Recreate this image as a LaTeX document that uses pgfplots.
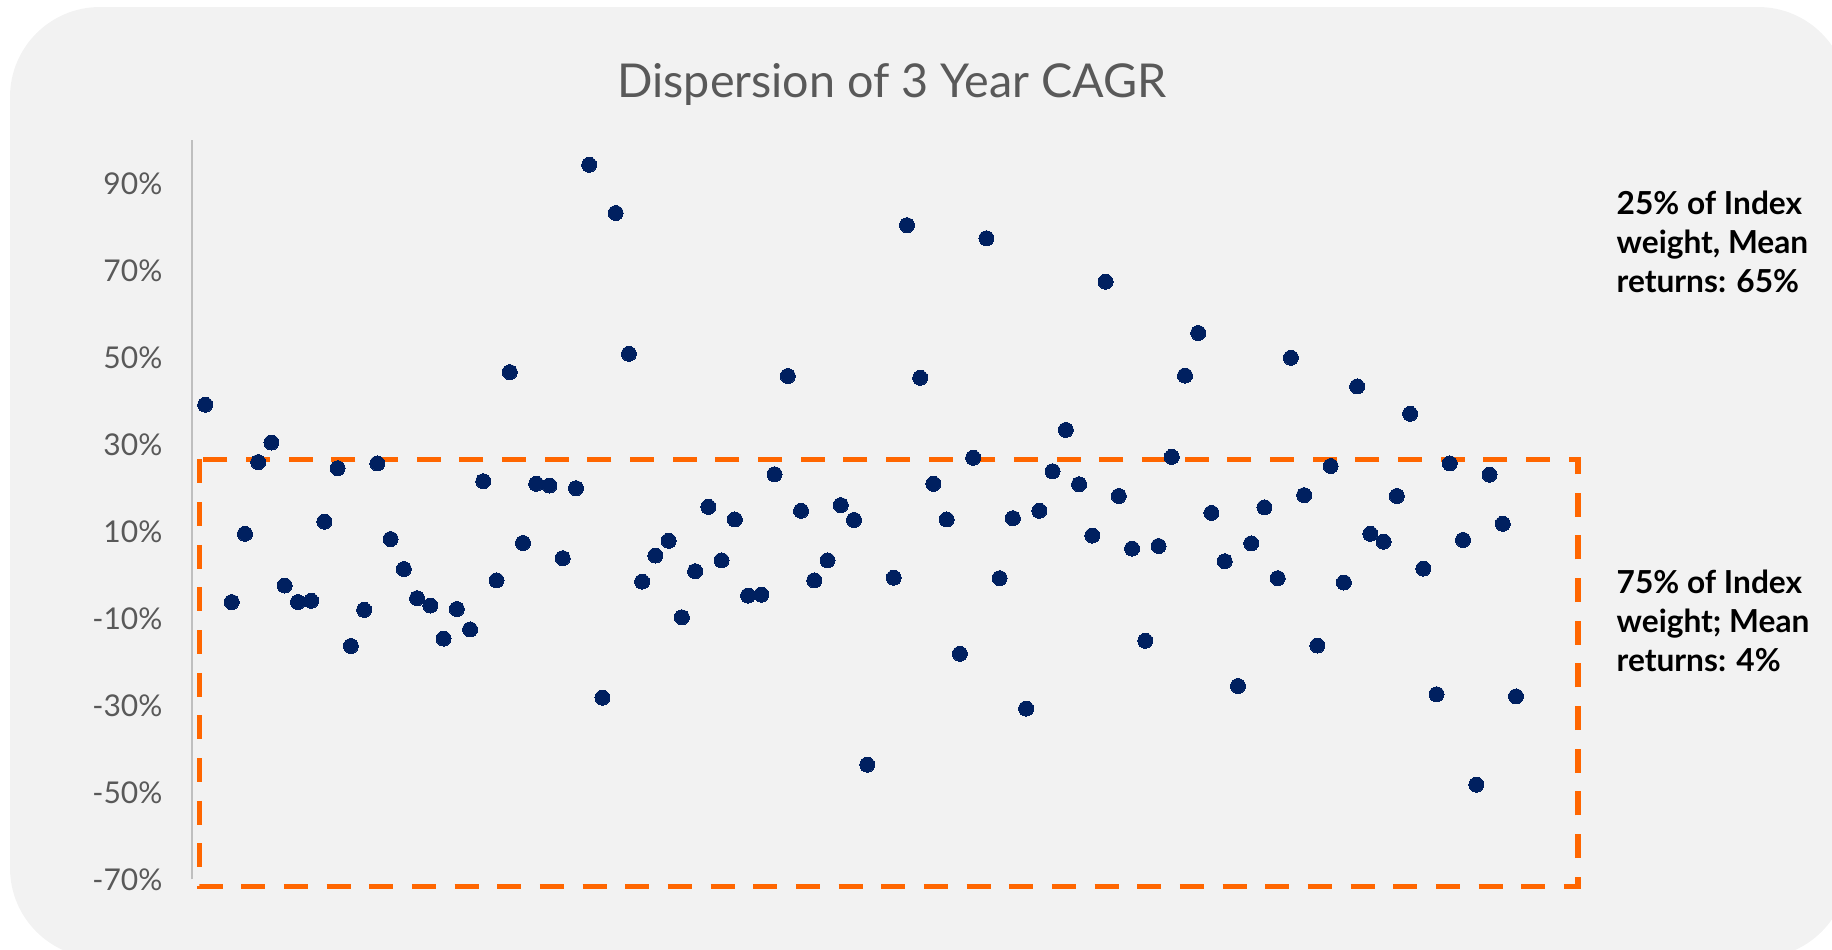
\documentclass[border=0pt]{standalone}
\usepackage{pgfplots}
\pgfplotsset{compat=1.18}
\usepackage{pgfplotstable}
\usepackage{fontspec}
\setmainfont{Lato}
\definecolor{bg}{HTML}{F2F2F2}
\definecolor{navy}{HTML}{002060}
\definecolor{orng}{HTML}{FF6600}
\definecolor{txtgrey}{HTML}{595959}
\definecolor{axgrey}{HTML}{BFBFBF}

\pgfplotstableread{
idx val
1 39.2
3 -6.2
4 9.5
5 26.0
6 30.5
7 -2.4
8 -6.2
9 -5.9
10 12.3
11 24.6
12 -16.3
13 -8.0
14 25.7
15 8.3
16 1.4
17 -5.3
18 -7.0
19 -14.6
20 -7.8
21 -12.5
22 21.6
23 -1.2
24 46.7
25 7.4
26 21.0
27 20.6
28 3.9
29 20.0
30 94.4
31 -28.2
32 83.3
33 50.9
34 -1.5
35 4.5
36 7.9
37 -9.7
38 0.9
39 15.7
40 3.4
41 12.8
42 -4.7
43 -4.5
44 23.2
45 45.8
46 14.8
47 -1.2
48 3.4
49 16.1
50 12.7
51 -43.6
53 -0.6
54 80.5
55 45.4
56 21.0
57 12.8
58 -18.1
59 27.0
60 77.5
61 -0.7
62 13.1
63 -30.7
64 14.8
65 23.9
66 33.4
67 20.9
68 9.1
69 67.5
70 18.2
71 6.1
72 -15.1
73 6.7
74 27.2
75 45.9
76 55.7
77 14.3
78 3.2
79 -25.5
80 7.3
81 15.6
82 -0.7
83 50.0
84 18.4
85 -16.2
86 25.1
87 -1.7
88 43.4
89 9.5
90 7.7
91 18.2
92 37.1
93 1.5
94 -27.4
95 25.7
96 8.1
97 -48.2
98 23.1
99 11.8
100 -27.9
}\cagr

\begin{document}
\begin{tikzpicture}
\path[use as bounding box] (0pt,0pt) rectangle (549.6pt,-284.7pt);
\begin{scope}
\clip (0pt,0pt) rectangle (549.6pt,-284.7pt);
\fill[bg, rounded corners=27pt] (3pt,-2.1pt) rectangle (554.4pt,-287.4pt);
\end{scope}

\node[anchor=base, text=txtgrey, font=\fontsize{14}{17}\selectfont, inner sep=0pt] at (267.6pt,-29.2pt) {Dispersion of 3 Year CAGR};

\begin{axis}[
  at={(57.6pt,-263.82pt)}, anchor=south west,
  scale only axis, width=417.06pt, height=221.7pt,
  xmin=0, xmax=105, ymin=-70, ymax=100,
  axis x line=none, axis y line*=left,
  y axis line style={axgrey, line width=0.5pt},
  ytick={-70,-50,-30,-10,10,30,50,70,90},
  yticklabels={-70\%,-50\%,-30\%,-10\%,10\%,30\%,50\%,70\%,90\%},
  major tick length=0pt,
  yticklabel style={font=\fontsize{9}{10}\selectfont, text=txtgrey, inner sep=0pt, xshift=-8.7pt},
  clip=false,
]
\addplot[only marks, mark=*, mark size=2.25pt, mark options={fill=navy, draw=navy, line width=0pt}] table[x=idx, y=val] {\cagr};
\draw[orng, line width=1.6pt, dash pattern=on 7.2pt off 5.6pt] (axis cs:0.55,26.6) rectangle (axis cs:104.68,-71.7);
\end{axis}

\node[anchor=base west, inner sep=0pt, align=left, font=\bfseries\fontsize{9.5}{11.7}\selectfont] at (484.8pt,-87.6pt) {25\% of Index\\weight, Mean\\returns: 65\%};
\node[anchor=base west, inner sep=0pt, align=left, font=\bfseries\fontsize{9.5}{11.7}\selectfont] at (484.8pt,-201.3pt) {75\% of Index\\weight; Mean\\returns: 4\%};
\end{tikzpicture}
\end{document}
